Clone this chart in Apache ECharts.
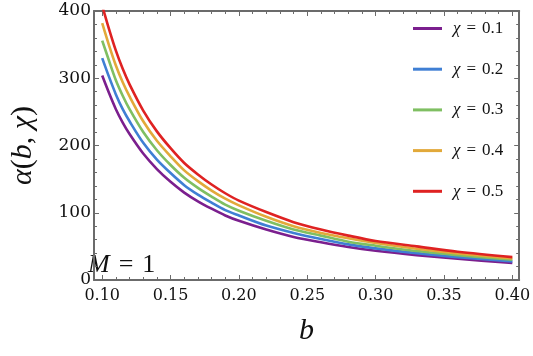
<!DOCTYPE html>
<html>
<head>
<meta charset="utf-8">
<script src="https://cdn.jsdelivr.net/npm/echarts@6/dist/echarts.min.js"></script>
<style>
html, body { margin: 0; padding: 0; background: #fff; }
#main { width: 533px; height: 356px; }
</style>
</head>
<body>
<div id="main"></div>
<script>
// impact parameter b
var bVals = [0.10, 0.105, 0.11, 0.115, 0.12, 0.13, 0.14, 0.15, 0.16, 0.17, 0.18, 0.19, 0.20,
             0.22, 0.24, 0.26, 0.28, 0.30, 0.33, 0.36, 0.40];
// alpha(b, chi) for each chi
var chi01 = [304, 278, 254, 234, 217, 188, 165, 146, 130, 117, 106, 96, 88, 75, 64, 56, 49, 43.5, 37, 31.5, 25.5];
var chi02 = [330, 302, 276, 254, 236, 204, 179, 159, 141, 127, 115, 104, 96, 81, 70, 61, 53, 47, 40, 34, 27.7];
var chi03 = [356, 326, 297, 274, 254, 220, 193, 171, 152, 137, 124, 112, 103, 88, 75, 66, 57, 51, 43, 37, 30];
var chi04 = [382, 349, 319, 294, 273, 236, 207, 184, 163, 147, 133, 121, 111, 94, 80, 70, 62, 55, 46.5, 39.5, 32];
var chi05 = [408, 373, 341, 314, 291, 252, 221, 196, 174, 157, 142, 129, 118, 101, 86, 75, 66, 58, 50, 42, 34];
var chiNames = ["0.1", "0.2", "0.3", "0.4", "0.5"];
var colors = ["#7b1f8e", "#3f7fd4", "#7fbf62", "#e2a93a", "#df2222"];

var xMajor = [0.10, 0.15, 0.20, 0.25, 0.30, 0.35, 0.40];
var xMinor = [0.10, 0.11, 0.12, 0.13, 0.14, 0.15, 0.16, 0.17, 0.18, 0.19, 0.20, 0.21, 0.22, 0.23, 0.24,
              0.25, 0.26, 0.27, 0.28, 0.29, 0.30, 0.31, 0.32, 0.33, 0.34, 0.35, 0.36, 0.37, 0.38, 0.39, 0.40];

var font = "Liberation Serif";
var numFont = "DejaVu Serif";
var frame = "#6b6b6b";

function pairs(ys) {
    return ys.map(function (v, i) { return [bVals[i], v]; });
}

function xAx(pos, labels, ticks, len, line) {
    return {
        type: "value", position: pos, min: 0.094, max: 0.405,
        axisLine: { show: line, onZero: false, lineStyle: { color: frame, width: 2 } },
        axisTick: { show: true, inside: true, length: len, customValues: ticks, lineStyle: { color: frame, width: 1 } },
        axisLabel: labels ? {
            show: true, customValues: xMajor, margin: 8, color: "#111",
            fontFamily: numFont, fontSize: 16,
            formatter: function (v) { return v.toFixed(2); }
        } : { show: false },
        splitLine: { show: false }
    };
}

function yAx(pos, labels) {
    return {
        type: "value", position: pos, min: 0, max: 400, interval: 100,
        axisLine: { show: true, onZero: false, lineStyle: { color: frame, width: 2 } },
        axisTick: { show: true, inside: true, length: 5, lineStyle: { color: frame, width: 1 } },
        minorTick: { show: true, splitNumber: 5, length: 3, lineStyle: { color: frame, width: 1 } },
        axisLabel: { show: labels, margin: 3, color: "#111", fontFamily: numFont, fontSize: 17 },
        splitLine: { show: false }
    };
}

var series = [chi01, chi02, chi03, chi04, chi05].map(function (ys, i) {
    return {
        name: chiNames[i], type: "line", data: pairs(ys),
        xAxisIndex: 0, yAxisIndex: 0,
        smooth: 0.3, symbol: "none", clip: true,
        lineStyle: { color: colors[i], width: 2.6 },
        itemStyle: { color: colors[i] }
    };
});

var chart = echarts.init(document.getElementById("main"));
chart.setOption({
    animation: false,
    grid: { left: 84, right: 11, top: 11, bottom: 76 },
    xAxis: [
        Object.assign(xAx("bottom", true, xMajor, 5, true), {
            name: "{i|b}", nameLocation: "middle", nameGap: 36,
            nameTextStyle: { rich: { i: { fontFamily: font, fontStyle: "italic", fontSize: 30, color: "#111" } } }
        }),
        xAx("bottom", false, xMinor, 3, false),
        xAx("top", false, xMajor, 5, true),
        xAx("top", false, xMinor, 3, false)
    ],
    yAxis: [
        Object.assign(yAx("left", true), {
            name: "{i|α}{n|(}{i|b}{n|, }{i|χ}{n|)}", nameLocation: "middle", nameGap: 56, nameRotate: 90,
            nameTextStyle: { rich: {
                i: { fontFamily: font, fontStyle: "italic", fontSize: 30, color: "#111" },
                n: { fontFamily: font, fontSize: 30, color: "#111" }
            } }
        }),
        yAx("right", false)
    ],
    legend: {
        orient: "vertical", left: 413, top: 20, padding: 0,
        icon: "rect", itemWidth: 29, itemHeight: 3, itemGap: 23.7,
        data: chiNames,
        formatter: function (n) { return "{i|χ}{e|=}" + n; },
        textStyle: {
            fontFamily: font, fontSize: 17, color: "#111", padding: [0, 0, 0, 6],
            rich: {
                i: { fontFamily: font, fontStyle: "italic", fontSize: 17, color: "#111" },
                e: { fontFamily: font, fontSize: 17, color: "#111", padding: [0, 6, 0, 6] }
            }
        }
    },
    graphic: [{
        type: "text", left: 88, top: 252,
        style: {
            text: "{i|M}{e|=}1", fontFamily: font, fontSize: 26, fill: "#111",
            rich: {
                i: { fontFamily: font, fontStyle: "italic", fontSize: 26, fill: "#111" },
                e: { fontFamily: font, fontSize: 26, fill: "#111", padding: [0, 9, 0, 9] }
            }
        }
    }],
    series: series
});
</script>
</body>
</html>
